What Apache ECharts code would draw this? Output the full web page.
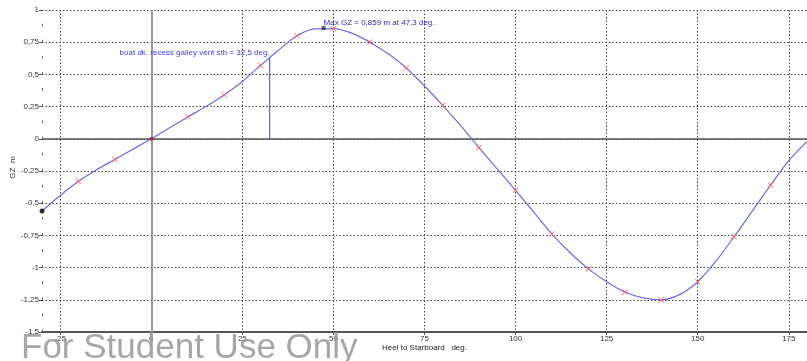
<!DOCTYPE html>
<html><head><meta charset="utf-8">
<script src="https://cdn.jsdelivr.net/npm/echarts@6/dist/echarts.min.js"></script>
<style>html,body{margin:0;padding:0;background:#fff}#c{width:807px;height:361px}</style>
</head><body><div id="c"></div>
<script>
// GZ curve every 5 deg (heel in deg, GZ in m)
const heelDeg  = [-30, -25, -20, -15, -10, -5, 0, 5, 10, 15, 20, 25, 30, 35, 40, 45, 50, 55, 60, 65, 70, 75, 80, 85, 90,
                  95, 100, 105, 110, 115, 120, 125, 130, 135, 140, 145, 150, 155, 160, 165, 170, 175, 180];
const gzValues = [-0.56, -0.44, -0.33, -0.24, -0.16, -0.08, 0, 0.085, 0.17, 0.25, 0.34, 0.445, 0.57, 0.69, 0.80, 0.853, 0.855, 0.82, 0.75, 0.66, 0.55, 0.41, 0.26, 0.10, -0.07,
                  -0.235, -0.40, -0.57, -0.74, -0.885, -1.01, -1.11, -1.19, -1.235, -1.25, -1.21, -1.11, -0.95, -0.76, -0.56, -0.36, -0.17, -0.02];
// red cross markers every 10 deg
const markerDeg = [-20, -10, 10, 20, 30, 40, 50, 60, 70, 80, 90, 100, 110, 120, 130, 140, 150, 160, 170];
const xTickLabels = [-25, 0, 25, 50, 75, 100, 125, 150, 175];
const ventDeg = 32.5;
const ventGZ = 0.63;
const maxDeg = 47.3;
const maxGZ = 0.859;
const ventText = 'boat dk. recess galley vent stb = 32,5 deg.';
const maxText = 'Max GZ = 0,859 m at 47,3 deg.';
const xName = 'Heel to Starboard   deg.';
const yName = 'GZ  m';
const watermark = 'For Student Use Only';

const gzAt = d => gzValues[heelDeg.indexOf(d)];
const curve = heelDeg.map((d, i) => [d, gzValues[i]]);
const markers = markerDeg.map(d => [d, gzAt(d)]);

const FONT = 'Liberation Sans, Arial, sans-serif';
const crossPath = 'path://M0,1L1,0L5,4L9,0L10,1L6,5L10,9L9,10L5,6L1,10L0,9L4,5Z';

const chart = echarts.init(document.getElementById('c'), null, {renderer: 'canvas'});
const option = {
  animation: false,
  backgroundColor: '#fff',
  grid: {left: 42, top: 10, width: 770, height: 322, containLabel: false},
  xAxis: {
    type: 'value', min: -30, max: 180,
    axisLine: {show: true, onZero: false, lineStyle: {color: '#555', width: 2}},
    axisTick: {show: true, customValues: xTickLabels, length: 3, lineStyle: {color: '#555'}},
    axisLabel: {customValues: xTickLabels, fontSize: 8, color: '#333', fontFamily: FONT, margin: 3},
    splitLine: {show: true, lineStyle: {color: '#444', width: 1, type: [1.5, 2]}}
  },
  yAxis: {
    type: 'value', min: -1.5, max: 1, interval: 0.25,
    axisLine: {show: true, onZero: false, lineStyle: {color: '#666', width: 1, type: [2, 14.1]}},
    axisTick: {show: true, length: 3, inside: false, lineStyle: {color: '#555'}},
    axisLabel: {fontSize: 8, color: '#333', fontFamily: FONT, margin: 3,
      formatter: v => String(+v.toFixed(2)).replace('.', ',')},
    splitLine: {show: true, lineStyle: {color: '#444', width: 1, type: [1.5, 2]}}
  },
  series: [
    {
      type: 'line', data: curve, smooth: 0.3, symbol: 'none', z: 5,
      lineStyle: {color: '#6c6ce6', width: 1.2},
      markLine: {
        silent: true, symbol: 'none', label: {show: false}, z: 2,
        data: [
          {xAxis: 0, lineStyle: {color: '#999', width: 2, type: 'solid'}},
          {yAxis: 0, lineStyle: {color: '#555', width: 1.5, type: 'solid'}}
        ]
      }
    },
    {
      type: 'line', data: [[ventDeg, 0], [ventDeg, ventGZ]], symbol: 'none', z: 4,
      lineStyle: {color: '#3a3aff', width: 1}
    },
    {
      type: 'scatter', data: markers, symbol: crossPath, symbolSize: 6, z: 6,
      itemStyle: {color: '#ff5a5a', opacity: 0.85}
    },
    {
      type: 'scatter', data: [[heelDeg[0], gzValues[0]]], symbol: 'circle', symbolSize: 5, z: 7,
      itemStyle: {color: '#000'}
    },
    {
      type: 'scatter', data: [[0, gzAt(0)]], symbol: 'circle', symbolSize: 4, z: 7,
      itemStyle: {color: '#b02030'}
    },
    {
      type: 'scatter', data: [[maxDeg, maxGZ]], symbol: 'rect', symbolSize: 4, z: 7,
      itemStyle: {color: '#333'}
    }
  ]
};
chart.setOption(option);

const pv = chart.convertToPixel({gridIndex: 0}, [ventDeg, ventGZ]);
const pm = chart.convertToPixel({gridIndex: 0}, [maxDeg, maxGZ]);
const p75 = chart.convertToPixel({gridIndex: 0}, [75, -1.5]);
const pg = chart.convertToPixel({gridIndex: 0}, [-30, -0.2]);
chart.setOption({
  graphic: [
    {type: 'text', x: pv[0], y: pv[1] - 5, z: 10,
      style: {text: ventText, fontSize: 8, fontFamily: FONT, fill: '#3c3cff', align: 'right', verticalAlign: 'middle'}},
    {type: 'text', x: pm[0], y: pm[1] - 5, z: 10,
      style: {text: maxText, fontSize: 8, fontFamily: FONT, fill: '#2a2ab8', align: 'left', verticalAlign: 'middle'}},
    {type: 'text', x: p75[0], y: p75[1] + 16, z: 10,
      style: {text: xName, fontSize: 8, fontFamily: FONT, fill: '#222', align: 'center', verticalAlign: 'middle'}},
    {type: 'text', x: 13, y: pg[1] + 3, rotation: Math.PI / 2, z: 10,
      style: {text: yName, fontSize: 8, fontFamily: FONT, fill: '#333', align: 'center', verticalAlign: 'middle'}},
    {type: 'text', x: 21, y: 331, z: 20,
      style: {text: watermark, fontSize: 35, fontFamily: FONT, fill: 'rgba(150,150,150,0.85)', align: 'left', verticalAlign: 'top'}}
  ]
});
</script>
</body></html>
